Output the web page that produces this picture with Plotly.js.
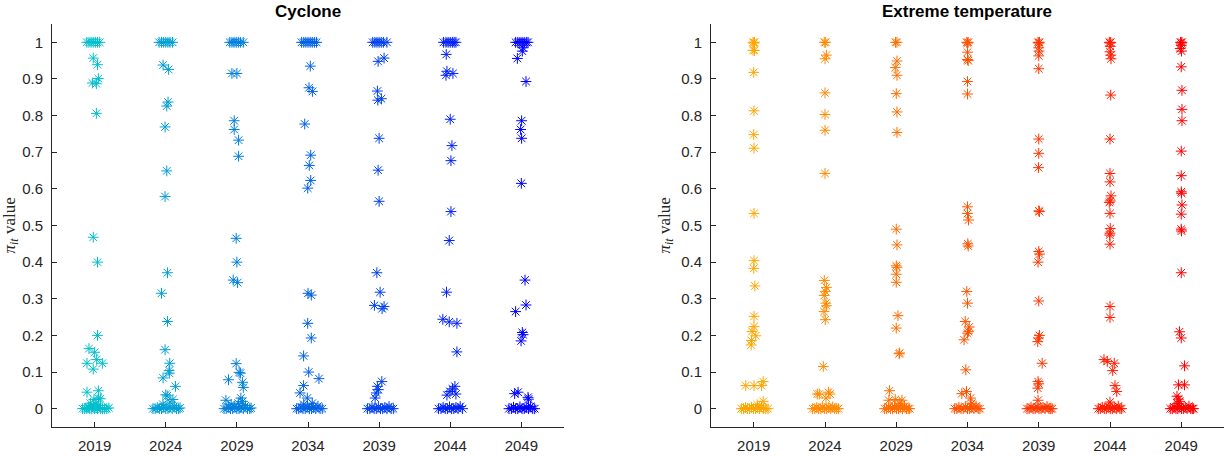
<!DOCTYPE html>
<html>
<head>
<meta charset="utf-8">
<script src="https://cdn.plot.ly/plotly-3.0.1.min.js"></script>
<style>
  html, body { margin: 0; padding: 0; background: #fff; }
  #chart { width: 1225px; height: 456px; }
</style>
</head>
<body>
<div id="chart"></div>
<script>
// Years shown on the horizontal axis
const years = [2019, 2024, 2029, 2034, 2039, 2044, 2049];
const yTicks = [0, 0.1, 0.2, 0.3, 0.4, 0.5, 0.6, 0.7, 0.8, 0.9, 1];
const yTickText = ['0', '0.1', '0.2', '0.3', '0.4', '0.5', '0.6', '0.7', '0.8', '0.9', '1'];
const panelTitles = ['Cyclone', 'Extreme temperature'];

// Each entry: [pi_it value, horizontal jitter in years]
const cyclone2019 = [
  [1,-0.55],[1,-0.4],[1,-0.25],[1,-0.1],[1,0.05],[1,0.2],[1,0.35],
  [0.957,-0.1],[0.939,0.2],[0.901,0.26],[0.889,-0.16],[0.887,0.12],[0.806,0.12],
  [0.468,-0.1],[0.400,0.2],[0.200,0.2],[0.164,-0.4],[0.154,0],[0.134,0.14],[0.124,-0.54],[0.124,0.54],[0.108,-0.1],
  [0.045,-0.54],[0.049,0.26],[0.029,0.26],[0.027,0.4],[0.025,-0.05],[0.015,-0.3],[0.012,0.1],
  [0,-0.85],[0,-0.7],[0,-0.55],[0.004,-0.45],[0,-0.35],[0,-0.2],[0.006,-0.1],[0,0],[0.003,0.1],[0,0.2],[0.008,0.3],[0,0.4],[0,0.55],[0,0.7],[0,0.85],[0.002,1.0]
];
const cyclone2024 = [
  [1,-0.47],[1,-0.3],[1,-0.15],[1,0],[1,0.15],[1,0.3],[1,0.48],
  [0.938,-0.19],[0.926,0.2],[0.837,0.16],[0.826,0.07],[0.769,-0.05],[0.649,0.07],[0.579,-0.05],
  [0.371,0.12],[0.315,-0.3],[0.238,0.12],[0.161,-0.05],[0.124,0.28],[0.104,0.23],[0.097,0.25],[0.084,-0.19],[0.061,0.68],
  [0.038,0],[0.035,0.1],[0.025,0.5],[0.018,0.3],[0.012,-0.2],
  [0,-0.9],[0,-0.75],[0.003,-0.6],[0,-0.45],[0,-0.3],[0.005,-0.15],[0,0],[0,0.15],[0.004,0.3],[0,0.45],[0.007,0.6],[0,0.75],[0,0.9],[0.002,1.0]
];
const cyclone2029 = [
  [1,-0.5],[1,-0.35],[1,-0.2],[1,-0.05],[1,0.1],[1,0.25],[1,0.45],
  [0.915,-0.35],[0.915,0],[0.786,-0.19],[0.762,-0.19],[0.733,0.12],[0.689,0.12],
  [0.465,-0.05],[0.400,0],[0.351,-0.26],[0.344,0.05],
  [0.123,-0.05],[0.099,0.16],[0.097,0.25],[0.079,-0.59],[0.072,0.4],[0.058,0.45],
  [0.023,-0.77],[0.029,0.28],[0.02,0.4],[0.012,-0.4],[0.015,0.1],
  [0,-0.9],[0,-0.75],[0.004,-0.6],[0,-0.45],[0,-0.3],[0.006,-0.15],[0,0],[0,0.15],[0.003,0.3],[0,0.45],[0.008,0.6],[0,0.75],[0,0.9],[0.002,1.0]
];
const cyclone2034 = [
  [1,-0.45],[1,-0.3],[1,-0.15],[1,0],[1,0.15],[1,0.3],[1,0.45],[1,0.6],
  [0.935,0.16],[0.876,0.07],[0.866,0.31],[0.777,-0.23],[0.692,0.19],[0.664,0.09],[0.623,0.19],[0.602,-0.02],
  [0.315,0],[0.310,0.23],[0.233,-0.02],[0.193,0.23],[0.144,-0.31],[0.100,0.05],[0.082,0.77],[0.063,-0.31],[0.043,-0.56],
  [0.029,-0.05],[0.015,0.3],[0.012,-0.3],
  [0,-0.8],[0,-0.65],[0.004,-0.5],[0,-0.35],[0,-0.2],[0.006,-0.05],[0,0.1],[0,0.25],[0.003,0.4],[0,0.55],[0.007,0.7],[0,0.85],[0,1.0]
];
const cyclone2039 = [
  [1,-0.45],[1,-0.3],[1,-0.15],[1,0],[1,0.15],[1,0.3],[1,0.55],
  [0.957,0.35],[0.948,-0.07],[0.867,-0.12],[0.846,0.16],[0.842,-0.09],[0.738,0],[0.651,-0.07],[0.566,0],
  [0.371,-0.16],[0.318,0.07],[0.282,-0.33],[0.279,0.35],[0.273,0.21],
  [0.074,0.19],[0.061,-0.12],[0.052,-0.05],[0.043,-0.2],[0.029,-0.28],
  [0,-0.82],[0,-0.65],[0.004,-0.5],[0,-0.35],[0,-0.2],[0.005,-0.05],[0,0.1],[0,0.25],[0.003,0.4],[0,0.55],[0.006,0.7],[0,0.85],[0,1.0]
];
const cyclone2044 = [
  [1,-0.47],[1,-0.3],[1,-0.15],[1,0],[1,0.15],[1,0.28],[1,0.4],
  [0.967,-0.28],[0.921,-0.23],[0.915,0.19],[0.910,-0.3],[0.790,0],[0.718,0.12],[0.677,0.05],[0.538,0.05],[0.459,-0.07],
  [0.318,-0.26],[0.244,-0.52],[0.237,-0.07],[0.233,0.47],[0.155,0.47],
  [0.061,0.33],[0.054,0.16],[0.047,-0.02],[0.040,0.4],[0.037,-0.23],
  [0,-0.82],[0,-0.65],[0.004,-0.5],[0,-0.35],[0,-0.2],[0.005,-0.05],[0,0.1],[0,0.25],[0.003,0.4],[0,0.55],[0.006,0.7],[0,0.87]
];
const cyclone2049 = [
  [1,-0.4],[1,-0.25],[1,-0.1],[1,0.05],[1,0.2],[1,0.35],[1,0.47],
  [0.985,0.12],[0.976,0.07],[0.956,-0.28],[0.893,0.33],[0.786,0.02],[0.762,-0.05],[0.738,0.02],[0.615,0],
  [0.351,0.26],[0.283,0.33],[0.265,-0.4],[0.208,0.07],[0.202,0.12],[0.185,-0.02],
  [0.041,-0.47],[0.045,-0.23],[0.031,0.47],[0.026,0.5],
  [0,-0.87],[0,-0.7],[0.004,-0.55],[0,-0.4],[0,-0.25],[0.005,-0.1],[0,0.05],[0,0.2],[0.003,0.35],[0,0.5],[0.006,0.65],[0,0.8],[0,0.94]
];

const temperature2019 = [
  [1,-0.05],[1,0.05],[0.998,0],[0.978,-0.05],[0.978,0.05],
  [0.918,0],[0.813,0.02],[0.748,0],[0.711,0.02],[0.533,0.02],
  [0.404,0.02],[0.383,0],[0.335,0.08],[0.252,0.02],[0.224,0.02],[0.211,-0.12],[0.199,0.14],[0.186,-0.16],[0.174,-0.18],
  [0.063,-0.56],[0.063,0.02],[0.063,0.54],[0.074,0.66],[0.020,0.66],[0.011,0.24],
  [0,-0.87],[0,-0.72],[0.003,-0.58],[0,-0.44],[0,-0.3],[0.004,-0.16],[0,-0.02],[0,0.12],[0.003,0.26],[0,0.4],[0.005,0.54],[0,0.68],[0,0.84],[0,1.0]
];
const temperature2024 = [
  [1,-0.05],[1,0.05],[0.965,0.1],[0.955,0],
  [0.862,0],[0.803,0],[0.760,0],[0.642,0],
  [0.350,-0.05],[0.331,0.1],[0.320,0.02],[0.309,-0.05],[0.288,0.06],[0.281,0.1],[0.265,-0.07],[0.243,0.02],
  [0.115,-0.12],[0.040,-0.54],[0.040,-0.4],[0.040,0.35],[0.045,0.24],[0.029,0.07],
  [0,-0.87],[0,-0.72],[0.003,-0.58],[0,-0.44],[0,-0.3],[0.004,-0.16],[0,-0.02],[0,0.12],[0.003,0.26],[0,0.4],[0.005,0.54],[0,0.68],[0,0.82],[0,0.94]
];
const temperature2029 = [
  [1,-0.05],[1,0.05],[0.949,0.05],[0.931,-0.07],[0.910,0.05],
  [0.860,0],[0.810,0.05],[0.754,0.05],
  [0.490,0],[0.447,0.05],[0.390,0],[0.386,0.05],[0.367,0],[0.345,0],
  [0.254,0.12],[0.220,0],[0.152,0.24],[0.150,0.2],
  [0.049,-0.47],[0.023,-0.52],[0.025,-0.07],[0.023,0.4],[0.015,0.25],
  [0,-0.82],[0,-0.68],[0.004,-0.54],[0,-0.4],[0,-0.26],[0.006,-0.12],[0,0.02],[0,0.16],[0.004,0.3],[0,0.44],[0.007,0.58],[0,0.72],[0,0.84],[0,0.94]
];
const temperature2034 = [
  [1,-0.05],[1,0.05],[0.998,0],[0.973,0],[0.953,0],[0.950,0.05],
  [0.893,0],[0.859,0],
  [0.551,0],[0.533,0],[0.515,0.07],[0.450,0.02],[0.444,0.05],
  [0.320,-0.05],[0.288,0],[0.238,-0.16],[0.223,0.12],[0.211,0.07],[0.206,0],[0.188,-0.24],
  [0.106,-0.12],[0.047,-0.07],[0.041,-0.4],[0.029,0.21],[0.015,0.3],
  [0,-0.9],[0,-0.75],[0.004,-0.6],[0,-0.45],[0,-0.3],[0.006,-0.15],[0,0],[0,0.15],[0.003,0.3],[0,0.45],[0.007,0.6],[0,0.75],[0,0.87]
];
const temperature2039 = [
  [1,-0.05],[1,0.05],[0.998,0],[0.985,0],[0.976,0.02],[0.963,0],[0.928,0],
  [0.736,0],[0.697,0],[0.658,-0.02],[0.540,0],[0.538,0.05],
  [0.429,0],[0.422,0.05],[0.400,-0.05],[0.294,0],[0.200,0.05],[0.193,-0.02],[0.183,-0.07],
  [0.124,0.24],[0.074,-0.05],[0.068,0],[0.056,-0.07],[0.023,-0.05],
  [0,-0.82],[0,-0.68],[0.004,-0.54],[0,-0.4],[0,-0.26],[0.005,-0.12],[0,0.02],[0,0.16],[0.003,0.3],[0,0.44],[0.006,0.58],[0,0.72],[0,0.84],[0,0.94]
];
const temperature2044 = [
  [1,-0.05],[1,0.05],[0.998,0],[0.989,0.02],[0.974,0],[0.965,0.05],[0.955,0.07],
  [0.856,0.05],[0.736,0],[0.642,0],[0.619,0],[0.581,0.07],[0.567,0.02],[0.563,-0.05],[0.533,0],
  [0.492,0.02],[0.479,0],[0.474,-0.02],[0.449,0],[0.279,0],[0.249,0],
  [0.134,-0.42],[0.129,-0.19],[0.124,0.3],[0.104,0.19],[0.063,0.35],[0.047,0.47],[0.018,0],
  [0,-0.82],[0,-0.68],[0.004,-0.54],[0,-0.4],[0,-0.26],[0.006,-0.12],[0,0.02],[0,0.16],[0.003,0.3],[0,0.44],[0.007,0.58],[0,0.7],[0,0.82]
];
const temperature2049 = [
  [1,-0.05],[1,0.05],[0.998,0],[0.992,0],[0.983,-0.07],[0.976,0.02],
  [0.933,0],[0.869,0.05],[0.817,0.05],[0.786,0.05],[0.703,0],
  [0.636,0],[0.592,0],[0.588,0.02],[0.556,0.05],[0.531,0],[0.490,0],[0.485,0.02],
  [0.371,0],[0.210,-0.12],[0.193,0],[0.117,0.23],[0.065,-0.19],[0.065,0.23],
  [0.034,-0.3],[0.026,-0.2],[0.020,-0.1],[0.014,-0.25],
  [0,-0.77],[0,-0.63],[0.004,-0.5],[0,-0.37],[0,-0.24],[0.006,-0.11],[0,0.02],[0,0.15],[0.003,0.28],[0,0.41],[0.007,0.54],[0,0.67],[0,0.78],[0,0.87]
];

const cycloneByYear = [cyclone2019, cyclone2024, cyclone2029, cyclone2034, cyclone2039, cyclone2044, cyclone2049];
const temperatureByYear = [temperature2019, temperature2024, temperature2029, temperature2034, temperature2039, temperature2044, temperature2049];

// Per-year marker colours: cyan to blue, orange to red
const cycloneColors = ['rgb(0,191,204)', 'rgb(0,159,213)', 'rgb(0,127,221)', 'rgb(0,96,230)', 'rgb(0,64,238)', 'rgb(0,32,247)', 'rgb(0,0,255)'];
const temperatureColors = ['rgb(255,165,0)', 'rgb(255,138,0)', 'rgb(255,110,0)', 'rgb(255,83,0)', 'rgb(255,55,0)', 'rgb(255,28,0)', 'rgb(255,0,0)'];

const W = 1225;
const axisColor = '#262626';
const tickFont = { family: 'Liberation Sans, Arial, sans-serif', size: 15, color: axisColor };

function makeTraces(groups, colors, xa, ya) {
  return groups.map((pts, i) => ({
    type: 'scatter',
    mode: 'markers',
    x: pts.map(p => years[i] + p[1]),
    y: pts.map(p => p[0]),
    xaxis: xa,
    yaxis: ya,
    marker: {
      symbol: 'asterisk-open',
      size: 9,
      color: colors[i],
      line: { width: 1, color: colors[i] }
    },
    hoverinfo: 'x+y',
    showlegend: false
  }));
}

function xAxis(d0, d1, anchor) {
  return {
    domain: [d0 / W, d1 / W],
    anchor: anchor,
    range: [2016, 2052],
    tickvals: years,
    ticktext: years.map(String),
    showline: true, linecolor: axisColor, linewidth: 1,
    ticks: 'inside', ticklen: 5, tickcolor: axisColor, tickwidth: 1,
    showgrid: false, zeroline: false,
    tickfont: tickFont,
    ticklabelstandoff: 5
  };
}

function yAxis(anchor) {
  return {
    domain: [0, 1],
    anchor: anchor,
    range: [-0.05, 1.05],
    tickvals: yTicks,
    ticktext: yTickText,
    showline: true, linecolor: axisColor, linewidth: 1,
    ticks: 'inside', ticklen: 5, tickcolor: axisColor, tickwidth: 1,
    showgrid: false, zeroline: false,
    tickfont: tickFont,
    ticklabelstandoff: 5
  };
}

const data = [
  ...makeTraces(cycloneByYear, cycloneColors, 'x', 'y'),
  ...makeTraces(temperatureByYear, temperatureColors, 'x2', 'y2')
];

const yLabel = '<i>π</i><sub><i>it</i></sub> value';
const serif = { family: 'Liberation Serif, DejaVu Serif, serif', size: 17, color: axisColor };
const titleFont = { family: 'Liberation Sans, Arial, sans-serif', size: 17, color: '#000' };

const layout = {
  width: 1225,
  height: 456,
  margin: { l: 0, r: 0, t: 24, b: 29 },
  paper_bgcolor: '#ffffff',
  plot_bgcolor: '#ffffff',
  showlegend: false,
  xaxis: xAxis(52, 564, 'y'),
  yaxis: yAxis('x'),
  xaxis2: xAxis(711, 1224, 'y2'),
  yaxis2: yAxis('x2'),
  annotations: [
    { text: '<b>' + panelTitles[0] + '</b>', xref: 'paper', yref: 'paper', x: 308 / W, y: 1, xanchor: 'center', yanchor: 'middle', yshift: 13, showarrow: false, font: titleFont },
    { text: '<b>' + panelTitles[1] + '</b>', xref: 'paper', yref: 'paper', x: 967 / W, y: 1, xanchor: 'center', yanchor: 'middle', yshift: 13, showarrow: false, font: titleFont },
    { text: yLabel, xref: 'paper', yref: 'paper', x: 10 / W, y: 0.5, xanchor: 'center', yanchor: 'middle', textangle: -90, showarrow: false, font: serif },
    { text: yLabel, xref: 'paper', yref: 'paper', x: 665 / W, y: 0.5, xanchor: 'center', yanchor: 'middle', textangle: -90, showarrow: false, font: serif }
  ]
};

Plotly.newPlot('chart', data, layout, { displayModeBar: false, staticPlot: true });
</script>
</body>
</html>
